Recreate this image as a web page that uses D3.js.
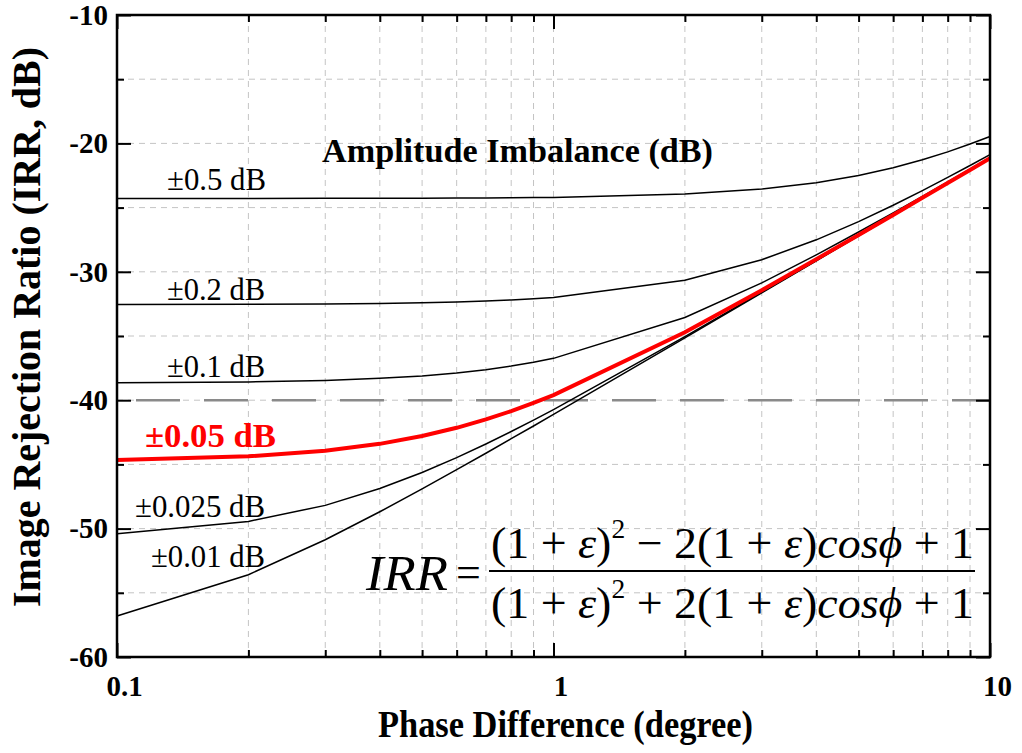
<!DOCTYPE html>
<html>
<head>
<meta charset="utf-8">
<script src="https://cdn.jsdelivr.net/npm/d3@7/dist/d3.min.js"></script>
<style>
  html, body { margin: 0; padding: 0; background: #fff; }
  svg { display: block; }
  text { font-family: "Liberation Serif", "Times New Roman", Times, serif; }
</style>
</head>
<body>
<svg id="chart" width="1022" height="753"></svg>
<script>
// ---------------- data ----------------
const phaseDeg = [0.1, 0.2, 0.3, 0.4, 0.5, 0.6, 0.7, 0.8, 0.9, 1, 2, 3, 4, 5, 6, 7, 8, 9, 10];
const irr_050 = [-24.29, -24.29, -24.28, -24.28, -24.27, -24.26, -24.25, -24.24, -24.22, -24.21, -23.95, -23.56, -23.06, -22.50, -21.90, -21.28, -20.66, -20.05, -19.46];
const irr_020 = [-32.55, -32.53, -32.50, -32.46, -32.41, -32.35, -32.27, -32.19, -32.10, -32.00, -30.66, -29.06, -27.51, -26.09, -24.82, -23.68, -22.65, -21.72, -20.88];
const irr_010 = [-38.65, -38.58, -38.46, -38.30, -38.11, -37.88, -37.62, -37.34, -37.05, -36.74, -33.56, -30.86, -28.68, -26.90, -25.41, -24.13, -23.00, -22.00, -21.11];
const irr_005 = [-44.65, -44.37, -43.94, -43.40, -42.79, -42.15, -41.50, -40.85, -40.21, -39.60, -34.71, -31.43, -29.02, -27.13, -25.57, -24.24, -23.09, -22.07, -21.16];
const irr_0025 = [-50.41, -49.44, -48.19, -46.88, -45.63, -44.47, -43.41, -42.44, -41.55, -40.73, -35.05, -31.59, -29.11, -27.18, -25.61, -24.27, -23.11, -22.09, -21.18];
const irr_001 = [-56.80, -53.59, -50.87, -48.69, -46.91, -45.41, -44.13, -43.00, -42.01, -41.11, -35.14, -31.63, -29.14, -27.20, -25.62, -24.28, -23.12, -22.10, -21.18];
const seriesNames = ["±0.5 dB", "±0.2 dB", "±0.1 dB", "±0.05 dB", "±0.025 dB", "±0.01 dB"];
const refLevel = -40;
const xMajorTicks = [0.1, 1, 10];
const xMinorTicks = [0.2, 0.3, 0.4, 0.5, 0.6, 0.7, 0.8, 0.9, 2, 3, 4, 5, 6, 7, 8, 9];
const yMajorTicks = [-60, -50, -40, -30, -20, -10];
const yMinorTicks = [-55, -45, -35, -25, -15];
const xTitle = "Phase Difference (degree)";
const yTitle = "Image Rejection Ratio (IRR, dB)";
const legendTitle = "Amplitude Imbalance (dB)";

// ---------------- layout ----------------
const L = 117, R = 990, T = 15, B = 657;
const labelLayout = [ // [x, baseline y]
  [167, 190], [167, 300], [167, 377], [145, 447], [135, 517], [151, 567]
];
const labelWidths = [99, 98, 98, 131, 130, 114];
const FONT = '"Liberation Serif", "Times New Roman", Times, serif';

const svg = d3.select("#chart");
svg.append("rect").attr("width", 1022).attr("height", 753).attr("fill", "#fff");

const x = d3.scaleLog().domain([0.1, 10]).range([L, R]);
const y = d3.scaleLinear().domain([-60, -10]).range([B, T]);

// grid
const grid = svg.append("g").attr("stroke", "#c4c4c4").attr("stroke-width", 1).attr("stroke-dasharray", "6,5");
grid.selectAll("line.vx").data(xMinorTicks.concat([1])).join("line")
  .attr("x1", d => x(d)).attr("x2", d => x(d)).attr("y1", T).attr("y2", B);
grid.selectAll("line.hy").data(yMinorTicks.concat([-50, -40, -30, -20])).join("line")
  .attr("y1", d => y(d)).attr("y2", d => y(d)).attr("x1", L).attr("x2", R);

// reference dashed line at -40 dB
svg.append("line")
  .attr("x1", L).attr("x2", R).attr("y1", y(refLevel)).attr("y2", y(refLevel))
  .attr("stroke", "#8a8a8a").attr("stroke-width", 2.5)
  .attr("stroke-dasharray", "44,24").attr("stroke-dashoffset", 49);

// curves
const line = d3.line().x((d, i) => x(phaseDeg[i])).y(d => y(d));
const blackSeries = [irr_050, irr_020, irr_010, irr_0025, irr_001];
svg.append("g").selectAll("path").data(blackSeries).join("path")
  .attr("d", line).attr("fill", "none").attr("stroke", "#000").attr("stroke-width", 1.5);
svg.append("path").datum(irr_005).attr("d", line)
  .attr("fill", "none").attr("stroke", "#ff0000").attr("stroke-width", 4);

// axes (ticks inward)
function styleAxis(g) {
  g.select(".domain").remove();
  g.selectAll(".tick line").attr("stroke", "#000").attr("stroke-width", 2);
}
const axB = svg.append("g").attr("transform", `translate(0,${B})`)
  .call(d3.axisBottom(x).tickValues(xMajorTicks).tickSize(-14).tickSizeOuter(0).tickPadding(18).tickFormat(d => String(d)))
  .call(styleAxis);
axB.selectAll("text").attr("font-family", FONT).attr("font-size", 29).attr("font-weight", "bold")
  .attr("fill", "#000").attr("dx", 7);
svg.append("g").attr("transform", `translate(0,${B})`)
  .call(d3.axisBottom(x).tickValues(xMinorTicks).tickSize(-7).tickSizeOuter(0).tickFormat(""))
  .call(styleAxis);
svg.append("g").attr("transform", `translate(0,${T})`)
  .call(d3.axisTop(x).tickValues(xMajorTicks).tickSize(-14).tickSizeOuter(0).tickFormat(""))
  .call(styleAxis);
svg.append("g").attr("transform", `translate(0,${T})`)
  .call(d3.axisTop(x).tickValues(xMinorTicks).tickSize(-7).tickSizeOuter(0).tickFormat(""))
  .call(styleAxis);
const axL = svg.append("g").attr("transform", `translate(${L},0)`)
  .call(d3.axisLeft(y).tickValues(yMajorTicks).tickSize(-14).tickSizeOuter(0).tickPadding(9).tickFormat(d => String(d)))
  .call(styleAxis);
axL.selectAll("text").attr("font-family", FONT).attr("font-size", 29).attr("font-weight", "bold").attr("fill", "#000");
svg.append("g").attr("transform", `translate(${L},0)`)
  .call(d3.axisLeft(y).tickValues(yMinorTicks).tickSize(-7).tickSizeOuter(0).tickFormat(""))
  .call(styleAxis);
svg.append("g").attr("transform", `translate(${R},0)`)
  .call(d3.axisRight(y).tickValues(yMajorTicks).tickSize(-14).tickSizeOuter(0).tickFormat(""))
  .call(styleAxis);
svg.append("g").attr("transform", `translate(${R},0)`)
  .call(d3.axisRight(y).tickValues(yMinorTicks).tickSize(-7).tickSizeOuter(0).tickFormat(""))
  .call(styleAxis);

// frame
svg.append("rect").attr("x", L).attr("y", T).attr("width", R - L).attr("height", B - T)
  .attr("fill", "none").attr("stroke", "#000").attr("stroke-width", 2.5);

// axis titles
svg.append("text").attr("x", 565.5).attr("y", 737).attr("text-anchor", "middle")
  .attr("font-size", 38).attr("font-weight", "bold").attr("textLength", 375).attr("lengthAdjust", "spacingAndGlyphs")
  .text(xTitle);
svg.append("text").attr("transform", "translate(40,327) rotate(-90)").attr("text-anchor", "middle")
  .attr("font-size", 40).attr("font-weight", "bold").attr("textLength", 560).attr("lengthAdjust", "spacingAndGlyphs")
  .text(yTitle);

// legend title
svg.append("text").attr("x", 322).attr("y", 162)
  .attr("font-size", 34).attr("font-weight", "bold").attr("textLength", 391).attr("lengthAdjust", "spacingAndGlyphs")
  .text(legendTitle);

// curve labels
svg.append("g").selectAll("text").data(seriesNames).join("text")
  .attr("x", (d, i) => labelLayout[i][0]).attr("y", (d, i) => labelLayout[i][1])
  .attr("font-size", (d, i) => i === 3 ? 34.5 : 30.5)
  .attr("font-weight", (d, i) => i === 3 ? "bold" : "normal")
  .attr("fill", (d, i) => i === 3 ? "#ff0000" : "#000")
  .attr("textLength", (d, i) => labelWidths[i]).attr("lengthAdjust", "spacingAndGlyphs")
  .text(d => d);

// formula
const fg = svg.append("g").attr("fill", "#000");
fg.append("text").attr("x", 366).attr("y", 590).attr("font-size", 50).attr("font-style", "italic")
  .attr("textLength", 82).attr("lengthAdjust", "spacingAndGlyphs").text("IRR");
fg.append("text").attr("x", 456).attr("y", 587).attr("font-size", 44).text("=");
function fracRow(baseline, sign) {
  const t = fg.append("text").attr("x", 491).attr("y", baseline).attr("font-size", 45)
    .attr("textLength", 483).attr("lengthAdjust", "spacingAndGlyphs");
  t.append("tspan").text("(1 + ");
  t.append("tspan").attr("font-style", "italic").text("ε");
  t.append("tspan").text(")");
  t.append("tspan").attr("font-size", 27).attr("dy", -20).text("2");
  t.append("tspan").attr("dy", 20).text(" " + sign + " 2(1 + ");
  t.append("tspan").attr("font-style", "italic").text("ε");
  t.append("tspan").text(")");
  t.append("tspan").attr("font-style", "italic").text("cosϕ");
  t.append("tspan").text(" + 1");
}
fracRow(558, "−");
fg.append("line").attr("x1", 489).attr("x2", 975).attr("y1", 571).attr("y2", 571)
  .attr("stroke", "#000").attr("stroke-width", 2);
fracRow(618, "+");
</script>
</body>
</html>
